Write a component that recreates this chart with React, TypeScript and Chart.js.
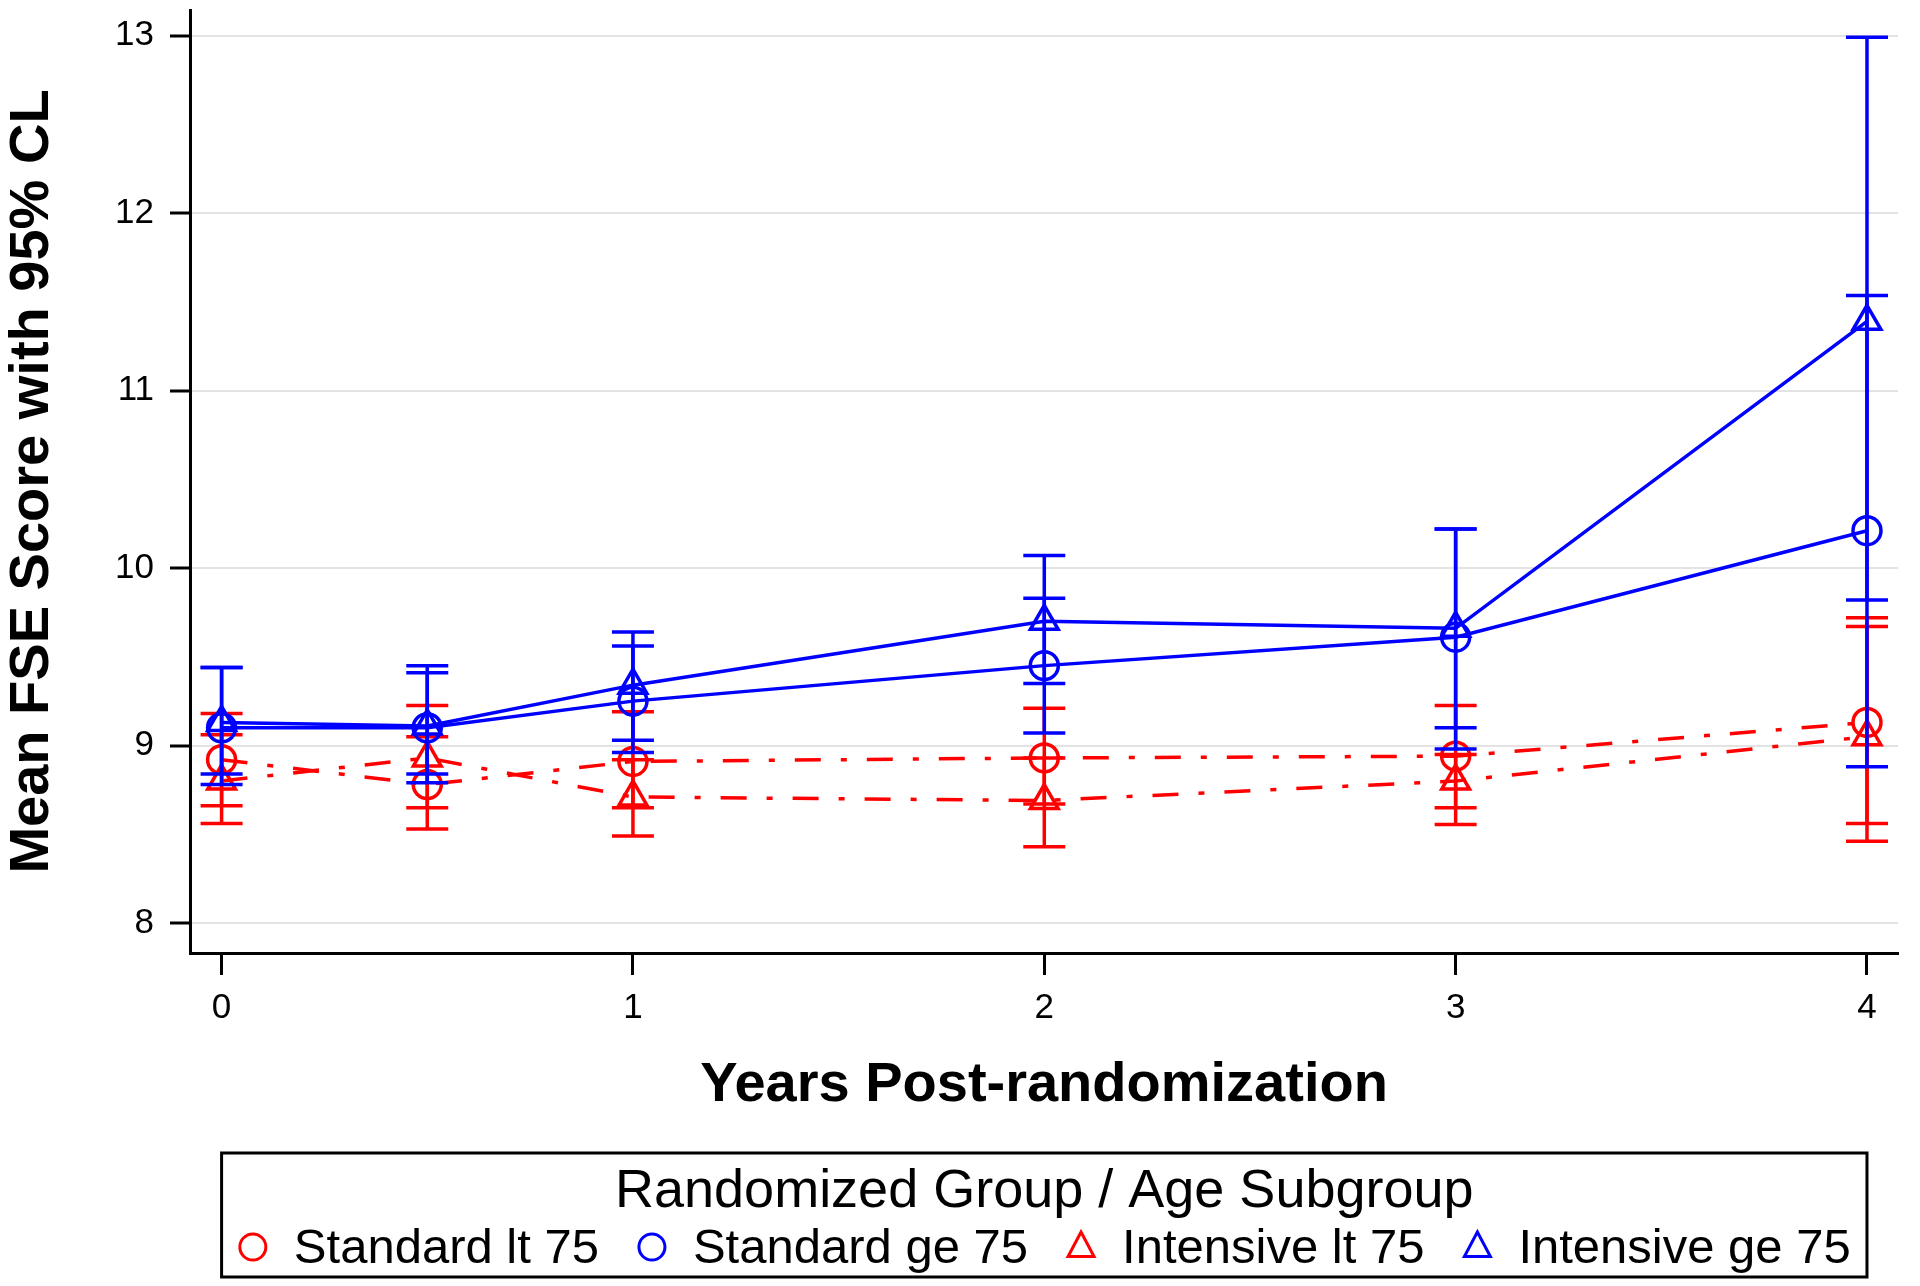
import React, { useEffect, useRef } from 'react';
import { Chart, registerables } from 'chart.js';

Chart.register(...registerables);

const FONT = '"Liberation Sans", Arial, Helvetica, sans-serif';

// ---- data ----
const years = [0, 0.5, 1, 2, 3, 4];
const xTicks = [0, 1, 2, 3, 4];
const yTicks = [8, 9, 10, 11, 12, 13];

const legendTitle = 'Randomized Group / Age Subgroup';
const seriesLabels = ['Standard lt 75', 'Standard ge 75', 'Intensive lt 75', 'Intensive ge 75'];

const standardLt75 = [8.92, 8.78, 8.91, 8.93, 8.94, 9.13];
const standardLt75Low = [8.66, 8.53, 8.65, 8.67, 8.65, 8.56];
const standardLt75High = [9.18, 9.05, 9.19, 9.21, 9.225, 9.72];

const standardGe75 = [9.10, 9.10, 9.25, 9.45, 9.61, 10.21];
const standardGe75Low = [8.78, 8.79, 8.96, 9.07, 8.98, 8.88];
const standardGe75High = [9.44, 9.41, 9.56, 9.83, 10.22, 11.535];

const intensiveLt75 = [8.80, 8.93, 8.71, 8.69, 8.80, 9.05];
const intensiveLt75Low = [8.56, 8.65, 8.49, 8.43, 8.555, 8.46];
const intensiveLt75High = [9.06, 9.225, 8.92, 8.93, 8.95, 9.67];

const intensiveGe75 = [9.13, 9.11, 9.34, 9.70, 9.66, 11.39];
const intensiveGe75Low = [8.84, 8.84, 9.03, 9.35, 9.10, 9.82];
const intensiveGe75High = [9.44, 9.45, 9.64, 10.07, 10.22, 12.99];

const X_MIN = -0.0768;
const X_MAX = 4.0754;
const Y_MIN = 7.831;
const Y_MAX = 13.1437;

const RED = '#ff0000';
const BLUE = '#0000ff';
const DASH_DOT = [26, 20, 6, 20];

function makeSeries(label: string, vals: number[], low: number[], high: number[], color: string, style: string, dashed: boolean, order: number) {
  return {
    label,
    data: years.map((x, i) => ({ x, y: vals[i] })),
    errLow: low,
    errHigh: high,
    borderColor: color,
    backgroundColor: 'transparent',
    borderWidth: 3.5,
    borderDash: dashed ? DASH_DOT : [],
    pointStyle: style,
    pointRadius: style === 'triangle' ? 16 : 14,
    pointBorderWidth: 3.5,
    pointBackgroundColor: 'transparent',
    pointBorderColor: color,
    tension: 0,
    order,
  };
}

const errorBarPlugin = {
  id: 'errorBars',
  afterDatasetDraw(chart: any, args: any) {
    const ds = chart.data.datasets[args.index];
    if (!ds.errLow) return;
    const { ctx } = chart;
    const xs = chart.scales.x;
    const ys = chart.scales.y;
    ctx.save();
    ctx.strokeStyle = ds.borderColor;
    ctx.lineWidth = 3.5;
    ctx.setLineDash([]);
    const half = 21;
    years.forEach((xv, i) => {
      const px = xs.getPixelForValue(xv);
      const yl = ys.getPixelForValue(ds.errLow[i]);
      const yh = ys.getPixelForValue(ds.errHigh[i]);
      ctx.beginPath();
      ctx.moveTo(px, yl);
      ctx.lineTo(px, yh);
      ctx.moveTo(px - half, yl);
      ctx.lineTo(px + half, yl);
      ctx.moveTo(px - half, yh);
      ctx.lineTo(px + half, yh);
      ctx.stroke();
    });
    ctx.restore();
  },
};

function drawMarker(ctx: CanvasRenderingContext2D, style: string, cx: number, cy: number, color: string) {
  ctx.save();
  ctx.strokeStyle = color;
  ctx.lineWidth = 3;
  ctx.setLineDash([]);
  ctx.beginPath();
  if (style === 'circle') {
    ctx.arc(cx, cy, 13, 0, Math.PI * 2);
  } else {
    const r = 15;
    ctx.moveTo(cx, cy - r);
    ctx.lineTo(cx + 0.866 * r, cy + 0.5 * r + 2);
    ctx.lineTo(cx - 0.866 * r, cy + 0.5 * r + 2);
    ctx.closePath();
  }
  ctx.stroke();
  ctx.restore();
}

const boxLegendPlugin = {
  id: 'boxLegend',
  afterDraw(chart: any) {
    const { ctx } = chart;
    const xs = chart.scales.x;
    const left = xs.getPixelForValue(0);
    const right = xs.getPixelForValue(4);
    const top = 1153;
    const bottom = 1277;
    const cx = (left + right) / 2;
    ctx.save();
    ctx.strokeStyle = '#000';
    ctx.lineWidth = 3;
    ctx.strokeRect(left, top, right - left, bottom - top);

    ctx.fillStyle = '#000';
    ctx.textAlign = 'center';
    ctx.textBaseline = 'alphabetic';
    ctx.font = `54px ${FONT}`;
    ctx.fillText(legendTitle, cx, 1207);

    ctx.font = `49px ${FONT}`;
    ctx.textAlign = 'left';
    const colors = [RED, BLUE, RED, BLUE];
    const styles = ['circle', 'circle', 'triangle', 'triangle'];
    const widths = seriesLabels.map((t) => ctx.measureText(t).width);
    const gap = 38;
    const total = widths.reduce((a: number, w: number) => a + 15 + 41 + w, 0) + gap * (seriesLabels.length - 1);
    let x = cx - total / 2;
    seriesLabels.forEach((t, i) => {
      const mc = x + 15;
      drawMarker(ctx, styles[i], mc, 1247, colors[i]);
      ctx.fillText(t, mc + 41, 1263);
      x = mc + 41 + widths[i] + gap;
    });
    ctx.restore();
  },
};

export default function App() {
  const ref = useRef<HTMLCanvasElement>(null);

  useEffect(() => {
    if (!ref.current) return;
    const chart = new Chart(ref.current, {
      type: 'line',
      data: {
        datasets: [
          makeSeries(seriesLabels[0], standardLt75, standardLt75Low, standardLt75High, RED, 'circle', true, 2),
          makeSeries(seriesLabels[2], intensiveLt75, intensiveLt75Low, intensiveLt75High, RED, 'triangle', true, 2),
          makeSeries(seriesLabels[1], standardGe75, standardGe75Low, standardGe75High, BLUE, 'circle', false, 1),
          makeSeries(seriesLabels[3], intensiveGe75, intensiveGe75Low, intensiveGe75High, BLUE, 'triangle', false, 1),
        ] as any,
      },
      options: {
        responsive: false,
        devicePixelRatio: 1,
        animation: false,
        layout: { autoPadding: false, padding: { top: 10, right: 22, bottom: 167, left: 0 } },
        plugins: {
          legend: { display: false },
          tooltip: { enabled: false },
        },
        scales: {
          x: {
            type: 'linear',
            min: X_MIN,
            max: X_MAX,
            afterBuildTicks: (s: any) => {
              s.ticks = xTicks.map((v) => ({ value: v }));
            },
            afterFit: (s: any) => {
              s.height = 166;
              s.paddingLeft = 0;
              s.paddingRight = 0;
            },
            grid: {
              drawOnChartArea: false,
              drawTicks: true,
              tickLength: 22,
              tickColor: '#000',
              tickWidth: 3,
            },
            border: { display: true, color: '#000', width: 3 },
            ticks: {
              color: '#000',
              font: { family: FONT, size: 35 },
              padding: 12,
              maxRotation: 0,
              autoSkip: false,
            },
            title: {
              display: true,
              text: 'Years Post-randomization',
              color: '#000',
              font: { family: FONT, size: 56, weight: 'bold' },
              padding: 0,
            },
          },
          y: {
            type: 'linear',
            min: Y_MIN,
            max: Y_MAX,
            afterBuildTicks: (s: any) => {
              s.ticks = yTicks.map((v) => ({ value: v }));
            },
            afterFit: (s: any) => {
              s.width = 190;
              s.paddingTop = 0;
              s.paddingBottom = 0;
            },
            grid: {
              color: '#e3e3e3',
              lineWidth: 2,
              drawTicks: true,
              tickLength: 20,
              tickColor: '#000',
              tickWidth: 3,
            },
            border: { display: true, color: '#000', width: 3 },
            ticks: {
              color: '#000',
              font: { family: FONT, size: 35, lineHeight: 0.4 },
              padding: 16,
            },
            title: {
              display: true,
              text: 'Mean FSE Score with 95% CL',
              color: '#000',
              font: { family: FONT, size: 56, weight: 'bold', lineHeight: 1.15 },
              padding: 0,
            },
          },
        },
      } as any,
      plugins: [errorBarPlugin, boxLegendPlugin],
    });
    return () => chart.destroy();
  }, []);

  return (
    <div style={{ position: 'fixed', left: 0, top: 0, width: 1920, height: 1286, background: '#fff' }}>
      <canvas ref={ref} width={1920} height={1286} style={{ width: 1920, height: 1286, display: 'block' }} />
    </div>
  );
}
